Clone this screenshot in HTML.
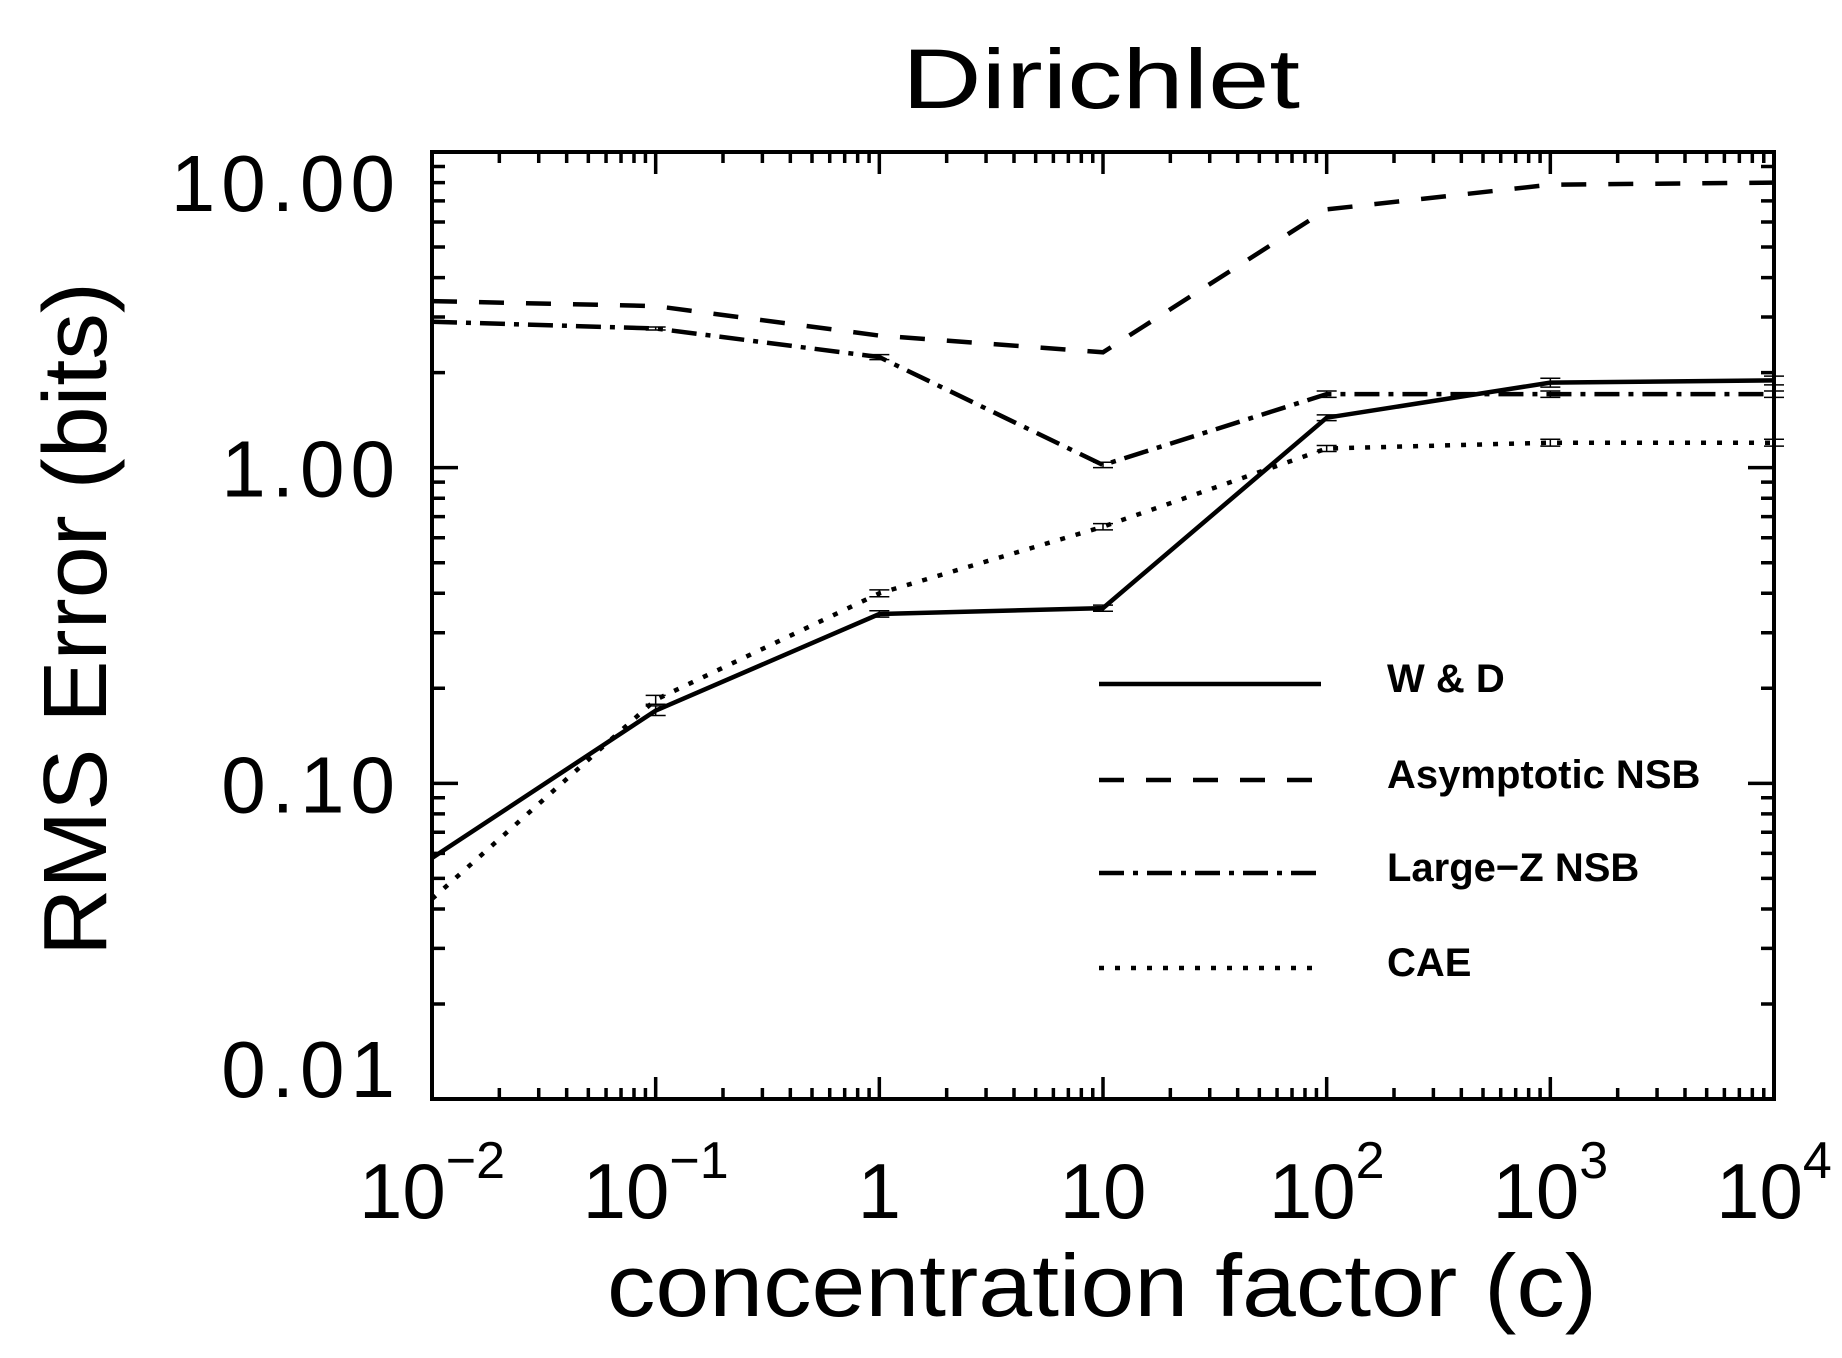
<!DOCTYPE html>
<html><head><meta charset="utf-8"><style>
html,body{margin:0;padding:0;background:#fff;}
svg{display:block;}
text{font-family:"Liberation Sans",sans-serif;fill:#000;}
</style></head><body>
<svg id="chart" width="1842" height="1358" viewBox="0 0 1842 1358" xmlns="http://www.w3.org/2000/svg">
<text x="1101" y="108" font-size="84" text-anchor="middle" textLength="398" lengthAdjust="spacingAndGlyphs">Dirichlet</text>
<text transform="translate(106,619) rotate(-90)" font-size="90" text-anchor="middle" textLength="674" lengthAdjust="spacingAndGlyphs">RMS Error (bits)</text>
<text x="1102" y="1316" font-size="88" text-anchor="middle" textLength="990" lengthAdjust="spacingAndGlyphs">concentration factor (c)</text>
<g id="marks"></g>
<g id="axes"></g>
<g id="legend"></g>
</svg>
<script>
const categories = [0.01, 0.1, 1, 10, 100, 1000, 10000];
const wdValues = [0.058, 0.17, 0.344, 0.359, 1.44, 1.86, 1.89];
const asymValues = [3.37, 3.25, 2.62, 2.32, 6.58, 7.88, 8.0];
const largeZValues = [2.9, 2.76, 2.24, 1.02, 1.71, 1.71, 1.71];
const caeValues = [0.043, 0.184, 0.40, 0.65, 1.15, 1.2, 1.2];
const wdErr = [0.001, 0.006, 0.008, 0.008, 0.03, 0.06, 0.06];
const largeZErr = [0.03, 0.03, 0.04, 0.02, 0.04, 0.04, 0.04];
const caeErr = [0.001, 0.006, 0.01, 0.015, 0.025, 0.03, 0.03];
const yTickValues = [10, 1, 0.1, 0.01];
const yTickLabels = ["10.00", "1.00", "0.10", "0.01"];
const xTickValues = [0.01, 0.1, 1, 10, 100, 1000, 10000];
const xTickBase = ["10", "10", "1", "10", "10", "10", "10"];
const xTickExp = ["\u22122", "\u22121", "", "", "2", "3", "4"];
const legendNames = ["W & D", "Asymptotic NSB", "Large\u2212Z NSB", "CAE"];

const NS = "http://www.w3.org/2000/svg";
const L = 432, R = 1774, T = 152, B = 1099;
const xs = v => L + (Math.log10(v) + 2) / 6 * (R - L);
const ys = v => B - (Math.log10(v) + 2) / 3 * (B - T);
function mk(tag, attrs, parent) {
  const e = document.createElementNS(NS, tag);
  for (const k in attrs) e.setAttribute(k, attrs[k]);
  parent.appendChild(e);
  return e;
}
const marks = document.getElementById('marks');
const axes = document.getElementById('axes');
const legend = document.getElementById('legend');
const styles = [
  {name: 'wd', vals: wdValues, err: wdErr, dash: ''},
  {name: 'asymptotic-nsb', vals: asymValues, err: null, dash: '25 22'},
  {name: 'large-z-nsb', vals: largeZValues, err: largeZErr, dash: '25 9 5 9'},
  {name: 'cae', vals: caeValues, err: caeErr, dash: '5 11'}
];
styles.forEach((s, si) => {
  const pts = s.vals.map((v, i) => xs(categories[i]).toFixed(1) + ',' + ys(v).toFixed(1)).join(' ');
  const pl = mk('polyline', {points: pts, fill: 'none', stroke: '#000', 'stroke-width': 4.5}, marks);
  if (s.dash) pl.setAttribute('stroke-dasharray', s.dash);
  
  
  if (s.err) {
    s.vals.forEach((v, i) => {
      if (i === 0) return;
      const x = xs(categories[i]);
      const y1 = ys(v + s.err[i]), y2 = ys(Math.max(v - s.err[i], 1e-3));
      const g = mk('path', {d: `M${x},${y1}V${y2}M${x-10},${y1}h20M${x-10},${y2}h20`, stroke: '#000', 'stroke-width': 1.5, fill: 'none'}, marks);
      
      
    });
  }
  const ly = [684, 780, 873, 968][si];
  const ll = mk('line', {x1: 1099, x2: 1321, y1: ly, y2: ly, stroke: '#000', 'stroke-width': 4.5}, legend);
  if (s.dash) ll.setAttribute('stroke-dasharray', s.dash);
  
  
  const lt = mk('text', {x: 1387, y: ly + 8, 'font-size': 40, 'font-weight': 'bold'}, legend);
  lt.textContent = legendNames[si];
  
  
});

const fr = mk('rect', {x: L, y: T, width: R - L, height: B - T, fill: 'none', stroke: '#000', 'stroke-width': 4}, axes);


let d = '';
for (let e = -2; e < 1; e++) for (let m = 1; m <= 10; m++) {
  const v = m * Math.pow(10, e), y = ys(v);
  const len = (m === 1 || m === 10) ? 26 : 13;
  d += `M${L},${y}h${len}M${R},${y}h${-len}`;
}
for (let e = -2; e < 4; e++) for (let m = 1; m <= 10; m++) {
  const x = xs(m * Math.pow(10, e));
  const len = (m === 1 || m === 10) ? 22 : 11;
  d += `M${x},${B}v${-len}M${x},${T}v${len}`;
}
const tk = mk('path', {d: d, stroke: '#000', 'stroke-width': 3.5, fill: 'none'}, axes);


yTickValues.forEach((v, i) => {
  const y = Math.min(Math.max(ys(v), 182), 1068);
  const t = mk('text', {x: 401, y: y + 29, 'font-size': 80, 'text-anchor': 'end', 'letter-spacing': 6}, axes);
  t.textContent = yTickLabels[i];
  
  
});
xTickValues.forEach((v, i) => {
  const x = xs(v);
  const t = mk('text', {x: x, y: 1218, 'font-size': 78, 'text-anchor': 'middle'}, axes);
  const b = document.createElementNS(NS, 'tspan');
  b.textContent = xTickBase[i];
  t.appendChild(b);
  if (xTickExp[i]) {
    const s = document.createElementNS(NS, 'tspan');
    s.setAttribute('dy', '-40');
    s.setAttribute('font-size', '52');
    s.textContent = xTickExp[i];
    t.appendChild(s);
  }
  
  
});
</script>
</body></html>
